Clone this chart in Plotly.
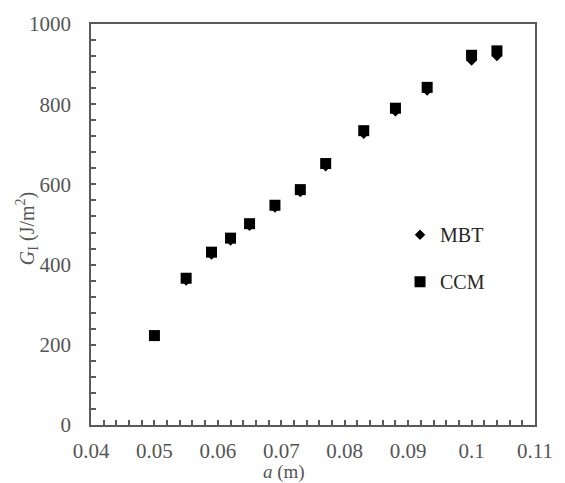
import plotly.graph_objects as go

# Data
crack_length = [0.05, 0.055, 0.059, 0.062, 0.065, 0.069, 0.073, 0.077, 0.083, 0.088, 0.093, 0.1, 0.104]
g_mbt = [222, 360, 425, 460, 497, 542, 581, 645, 726, 782, 834, 909, 920]
g_ccm = [223, 366, 431, 466, 502, 548, 587, 652, 734, 790, 842, 922, 933]

x_tickvals = [0.04, 0.05, 0.06, 0.07, 0.08, 0.09, 0.1, 0.11]
x_ticktext = ["0.04", "0.05", "0.06", "0.07", "0.08", "0.09", "0.1", "0.11"]
y_tickvals = [0, 200, 400, 600, 800, 1000]
y_ticktext = ["0", "200", "400", "600", "800", "1000"]

FONT = "Liberation Serif"
GRAY = "#555555"
AXIS = "#5a5a5a"

fig = go.Figure()
fig.add_trace(go.Scatter(
    x=crack_length, y=g_mbt, mode="markers", name="MBT",
    legendgroup="a",
    marker=dict(symbol="diamond", size=8, color="black"),
))
fig.add_trace(go.Scatter(
    x=crack_length, y=g_ccm, mode="markers", name="CCM",
    legendgroup="b",
    marker=dict(symbol="square", size=11, color="black"),
))

axis_common = dict(
    showline=True, linecolor=AXIS, linewidth=1.5, mirror=True,
    showgrid=False, zeroline=False,
    ticks="inside", ticklen=5, tickwidth=1.5, tickcolor=AXIS,
    tickfont=dict(family=FONT, size=21, color=GRAY),
)

fig.update_xaxes(
    range=[0.04, 0.11], tickmode="array", tickvals=x_tickvals, ticktext=x_ticktext,
    ticklabelstandoff=6,
    minor=dict(ticks="inside", dtick=0.002, tick0=0.04, ticklen=5, tickwidth=1.5, tickcolor=AXIS),
    **axis_common,
)
fig.update_yaxes(
    range=[0, 1000], tickmode="array", tickvals=y_tickvals, ticktext=y_ticktext,
    ticklabelstandoff=14,
    minor=dict(ticks="inside", dtick=40, tick0=0, ticklen=5, tickwidth=1.5, tickcolor=AXIS),
    **axis_common,
)

# Axis titles
fig.add_annotation(
    text="<i>G</i><sub>I</sub> (J/m<sup>2</sup>)", xref="paper", yref="paper",
    x=-0.145, y=0.49, xanchor="center", yanchor="middle", textangle=-90,
    showarrow=False, font=dict(family=FONT, size=20, color=GRAY),
)
fig.add_annotation(
    text="<i>a</i> (m)", xref="paper", yref="paper", x=0.435, y=-0.116,
    xanchor="center", yanchor="middle", showarrow=False,
    font=dict(family=FONT, size=19, color=GRAY),
)

fig.update_layout(
    width=565, height=483,
    margin=dict(l=91, r=20, t=21, b=58),
    paper_bgcolor="white", plot_bgcolor="white",
    showlegend=True,
    legend=dict(
        x=0.696, y=0.416, xanchor="left", yanchor="middle",
        traceorder="grouped", tracegroupgap=18,
        font=dict(family=FONT, size=20, color="#262626"),
        bgcolor="rgba(0,0,0,0)", itemwidth=30,
    ),
)

fig.write_html("out.html")
